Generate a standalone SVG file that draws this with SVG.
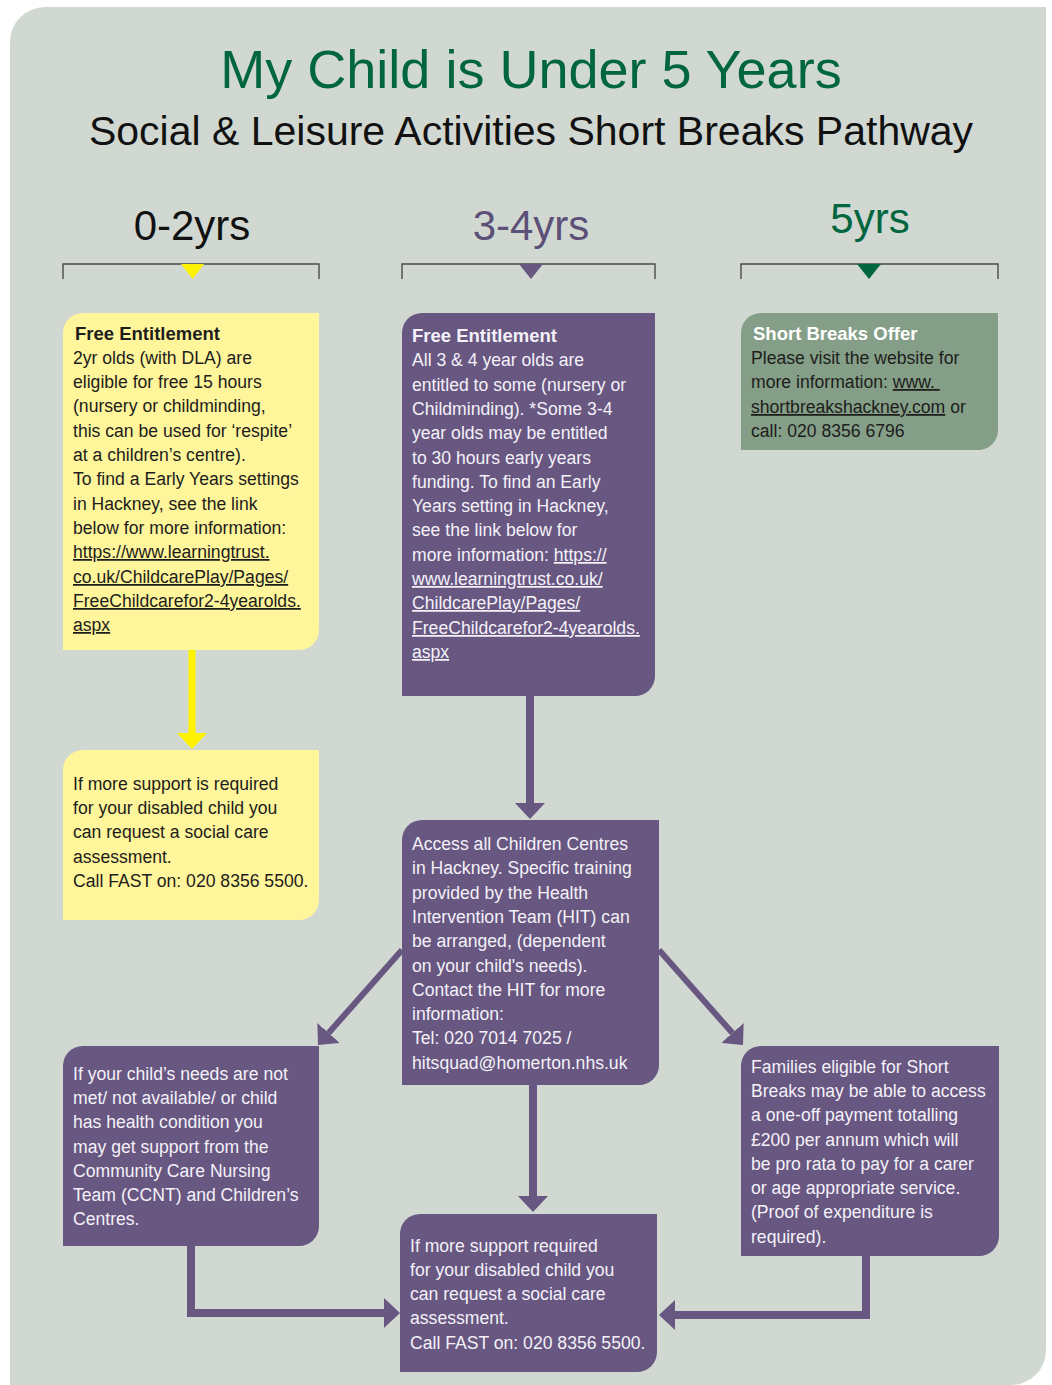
<svg xmlns="http://www.w3.org/2000/svg" width="1052" height="1385" viewBox="0 0 1052 1385">
<style>
text{font-family:"Liberation Sans",Arial,sans-serif}
.t{font-size:17.6px}
.dk{fill:#1d1d1b}
.wt{fill:#f4f1f8}
.b{font-weight:bold;font-size:18.5px}
.u{text-decoration:underline}
.yel{fill:#fff59b}
.pur{fill:#675781}
.grn{fill:#849e87}
.br{fill:none;stroke:#4a4a4a;stroke-width:1.4}
.cp{fill:none;stroke:#675781;stroke-width:8}
</style>
<defs>
<marker id="ap" markerUnits="userSpaceOnUse" viewBox="0 0 16 30" markerWidth="16" markerHeight="30" refX="0" refY="15" orient="auto"><path d="M0,0 L16,15 L0,30 Z" fill="#675781"/></marker>
<marker id="ay" markerUnits="userSpaceOnUse" viewBox="0 0 16 30" markerWidth="16" markerHeight="30" refX="0" refY="15" orient="auto"><path d="M0,0 L16,15 L0,30 Z" fill="#fff200"/></marker>
</defs>
<rect width="1052" height="1385" fill="#ffffff"/>
<path d="M45,7 H1046 V1350 A35,35 0 0 1 1011,1385 H10 V42 A35,35 0 0 1 45,7 Z" fill="#d1d8d1"/>

<g id="header">
<text x="531" y="88" text-anchor="middle" font-size="54" fill="#00663f">My Child is Under 5 Years</text>
<text x="531" y="145" text-anchor="middle" font-size="41" fill="#111">Social &amp; Leisure Activities Short Breaks Pathway</text>
<text x="192" y="240" text-anchor="middle" font-size="42" fill="#111">0-2yrs</text>
<text x="531" y="240" text-anchor="middle" font-size="42" fill="#5c5079">3-4yrs</text>
<text x="870" y="233" text-anchor="middle" font-size="42" fill="#00663f">5yrs</text>
<path class="br" d="M63,279 V264 H319 V279"/>
<path class="br" d="M402,279 V264 H655 V279"/>
<path class="br" d="M741,279 V264 H998 V279"/>
<polygon points="181,264 204,264 192.7,279" fill="#fff200"/>
<polygon points="519,264 543,264 531,279" fill="#675781"/>
<polygon points="857,264 881,264 869,279" fill="#00663f"/>
</g>

<g id="connectors">
<line x1="192" y1="650" x2="192" y2="733" stroke="#fff200" stroke-width="7" marker-end="url(#ay)"/>
<line class="cp" x1="530" y1="696" x2="530" y2="803" marker-end="url(#ap)"/>
<line class="cp" style="stroke-width:6" x1="402" y1="950" x2="328.6" y2="1033" marker-end="url(#ap)"/>
<line class="cp" style="stroke-width:6" x1="659" y1="950" x2="732.4" y2="1033" marker-end="url(#ap)"/>
<line class="cp" x1="533" y1="1085" x2="533" y2="1196" marker-end="url(#ap)"/>
<polyline class="cp" points="191,1246 191,1313 384,1313" marker-end="url(#ap)"/>
<polyline class="cp" points="866,1256 866,1315 675,1315" marker-end="url(#ap)"/>
</g>

<g id="node-free-0-2">
<path class="yel" d="M83,313 H319 V630 A20,20 0 0 1 299,650 H63 V333 A20,20 0 0 1 83,313 Z"/>
<text class="t dk" x="73">
<tspan x="75" y="340" class="b">Free Entitlement</tspan>
<tspan x="73" y="364">2yr olds (with DLA) are</tspan>
<tspan x="73" y="388">eligible for free 15 hours</tspan>
<tspan x="73" y="412">(nursery or childminding,</tspan>
<tspan x="73" y="437">this can be used for ‘respite’</tspan>
<tspan x="73" y="461">at a children’s centre).</tspan>
<tspan x="73" y="485">To find a Early Years settings</tspan>
<tspan x="73" y="510">in Hackney, see the link</tspan>
<tspan x="73" y="534">below for more information:</tspan>
<tspan x="73" y="558" class="u">https://www.learningtrust.</tspan>
<tspan x="73" y="583" class="u">co.uk/ChildcarePlay/Pages/</tspan>
<tspan x="73" y="607" class="u">FreeChildcarefor2-4yearolds.</tspan>
<tspan x="73" y="631" class="u">aspx</tspan>
</text>
</g>

<g id="node-support-0-2">
<path class="yel" d="M83,750 H319 V900 A20,20 0 0 1 299,920 H63 V770 A20,20 0 0 1 83,750 Z"/>
<text class="t dk">
<tspan x="73" y="790">If more support is required</tspan>
<tspan x="73" y="814">for your disabled child you</tspan>
<tspan x="73" y="838">can request a social care</tspan>
<tspan x="73" y="863">assessment.</tspan>
<tspan x="73" y="887">Call FAST on: 020 8356 5500.</tspan>
</text>
</g>

<g id="node-free-3-4">
<path class="pur" d="M422,313 H655 V676 A20,20 0 0 1 635,696 H402 V333 A20,20 0 0 1 422,313 Z"/>
<text class="t wt">
<tspan x="412" y="342" class="b">Free Entitlement</tspan>
<tspan x="412" y="366">All 3 &amp; 4 year olds are</tspan>
<tspan x="412" y="391">entitled to some (nursery or</tspan>
<tspan x="412" y="415">Childminding). *Some 3-4</tspan>
<tspan x="412" y="439">year olds may be entitled</tspan>
<tspan x="412" y="464">to 30 hours early years</tspan>
<tspan x="412" y="488">funding. To find an Early</tspan>
<tspan x="412" y="512">Years setting in Hackney,</tspan>
<tspan x="412" y="536">see the link below for</tspan>
<tspan x="412" y="561">more information: <tspan class="u">https://</tspan></tspan>
<tspan x="412" y="585" class="u">www.learningtrust.co.uk/</tspan>
<tspan x="412" y="609" class="u">ChildcarePlay/Pages/</tspan>
<tspan x="412" y="634" class="u">FreeChildcarefor2-4yearolds.</tspan>
<tspan x="412" y="658" class="u">aspx</tspan>
</text>
</g>

<g id="node-short-breaks">
<path class="grn" d="M761,313 H998 V430 A20,20 0 0 1 978,450 H741 V333 A20,20 0 0 1 761,313 Z"/>
<text class="t b" fill="#ffffff" x="753" y="340">Short Breaks Offer</text>
<text class="t dk">
<tspan x="751" y="364">Please visit the website for</tspan>
<tspan x="751" y="388">more information: <tspan class="u">www. </tspan></tspan>
<tspan x="751" y="413"><tspan class="u">shortbreakshackney.com</tspan> or</tspan>
<tspan x="751" y="437">call: 020 8356 6796</tspan>
</text>
</g>

<g id="node-children-centres">
<path class="pur" d="M422,820 H659 V1065 A20,20 0 0 1 639,1085 H402 V840 A20,20 0 0 1 422,820 Z"/>
<text class="t wt">
<tspan x="412" y="850">Access all Children Centres</tspan>
<tspan x="412" y="874">in Hackney. Specific training</tspan>
<tspan x="412" y="899">provided by the Health</tspan>
<tspan x="412" y="923">Intervention Team (HIT) can</tspan>
<tspan x="412" y="947">be arranged, (dependent</tspan>
<tspan x="412" y="972">on your child's needs).</tspan>
<tspan x="412" y="996">Contact the HIT for more</tspan>
<tspan x="412" y="1020">information:</tspan>
<tspan x="412" y="1044">Tel: 020 7014 7025 /</tspan>
<tspan x="412" y="1069">hitsquad@homerton.nhs.uk</tspan>
</text>
</g>

<g id="node-ccnt">
<path class="pur" d="M83,1046 H319 V1226 A20,20 0 0 1 299,1246 H63 V1066 A20,20 0 0 1 83,1046 Z"/>
<text class="t wt">
<tspan x="73" y="1080">If your child’s needs are not</tspan>
<tspan x="73" y="1104">met/ not available/ or child</tspan>
<tspan x="73" y="1128">has health condition you</tspan>
<tspan x="73" y="1153">may get support from the</tspan>
<tspan x="73" y="1177">Community Care Nursing</tspan>
<tspan x="73" y="1201">Team (CCNT) and Children’s</tspan>
<tspan x="73" y="1225">Centres.</tspan>
</text>
</g>

<g id="node-payment">
<path class="pur" d="M761,1046 H999 V1236 A20,20 0 0 1 979,1256 H741 V1066 A20,20 0 0 1 761,1046 Z"/>
<text class="t wt">
<tspan x="751" y="1073">Families eligible for Short</tspan>
<tspan x="751" y="1097">Breaks may be able to access</tspan>
<tspan x="751" y="1121">a one-off payment totalling</tspan>
<tspan x="751" y="1146">£200 per annum which will</tspan>
<tspan x="751" y="1170">be pro rata to pay for a carer</tspan>
<tspan x="751" y="1194">or age appropriate service.</tspan>
<tspan x="751" y="1218">(Proof of expenditure is</tspan>
<tspan x="751" y="1243">required).</tspan>
</text>
</g>

<g id="node-assessment">
<path class="pur" d="M420,1214 H657 V1352 A20,20 0 0 1 637,1372 H400 V1234 A20,20 0 0 1 420,1214 Z"/>
<text class="t wt">
<tspan x="410" y="1252">If more support required</tspan>
<tspan x="410" y="1276">for your disabled child you</tspan>
<tspan x="410" y="1300">can request a social care</tspan>
<tspan x="410" y="1324">assessment.</tspan>
<tspan x="410" y="1349">Call FAST on: 020 8356 5500.</tspan>
</text>
</g>
</svg>
